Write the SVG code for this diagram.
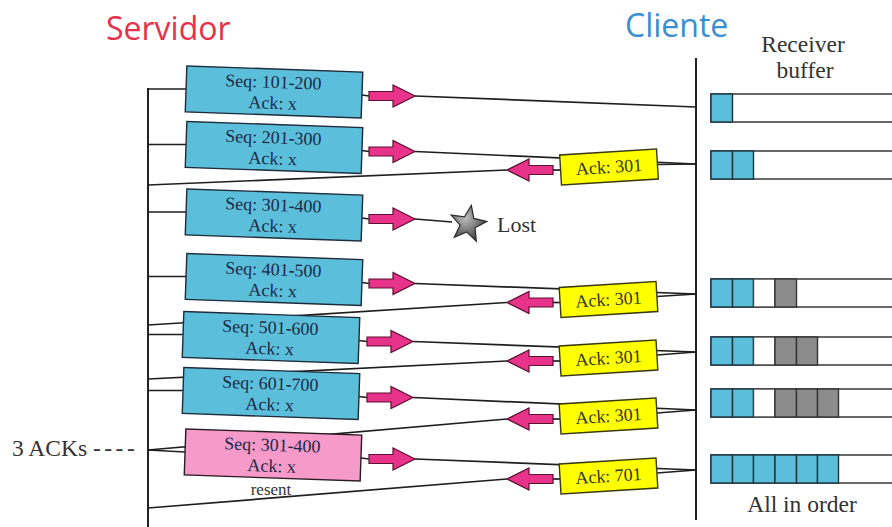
<svg xmlns="http://www.w3.org/2000/svg" width="892" height="527" viewBox="0 0 892 527">
  <defs>
    <style>
      .title { font-family: "Open Sans", "Liberation Sans", sans-serif; font-size: 32px; }
      .lbl { font-family: "Liberation Serif", "DejaVu Serif", serif; font-size: 18px; fill: #1c2a48; text-anchor: middle; }
      .ack-lbl { font-family: "Liberation Serif", "DejaVu Serif", serif; font-size: 18px; fill: #333; text-anchor: middle; }
      .note { font-family: "Liberation Serif", "DejaVu Serif", serif; font-size: 22px; fill: #333; }
      .note-lg { font-size: 23.5px; }
      .seg { fill: #5bbfdb; stroke: #1d2b3a; stroke-width: 1.4; }
      .seg-resent { fill: #f59ac9; stroke: #2a1a22; stroke-width: 1.4; }
      .ack { fill: #ffff00; stroke: #3a3a10; stroke-width: 1.4; }
      .wire { stroke: #1e1e1e; stroke-width: 1.7; fill: none; }
      .axis { stroke: #222; stroke-width: 2; }
      .flow { fill: #e8338a; stroke: #5a1030; stroke-width: 1.2; }
      .buf { fill: #fff; stroke: #444; stroke-width: 1.6; }
      .cell-in { fill: #5bbfdb; stroke: #1d3440; stroke-width: 1.4; }
      .cell-ooo { fill: #8c8c8c; stroke: #333; stroke-width: 1.4; }
      .cell-gap { fill: #fff; stroke: #444; stroke-width: 1.4; }
    </style>
    <!-- block arrow pointing right, tail at x=0 -->
    <path id="fwd" d="M0,-4.5 H24 V-11 L46,0 L24,11 V4.5 H0 Z"/>
    <!-- block arrow pointing left, tail at x=0 -->
    <path id="back" d="M0,-4.5 H-24 V-11 L-46,0 L-24,11 V4.5 H0 Z"/>
    <radialGradient id="starFill" cx="0.4" cy="0.35" r="0.7">
      <stop offset="0" stop-color="#bdbdbd"/>
      <stop offset="1" stop-color="#3a3a3a"/>
    </radialGradient>
  </defs>

  <rect width="892" height="527" fill="#fff"/>

  <!-- headings -->
  <text class="title" x="106" y="40" fill="#e8304c">Servidor</text>
  <text class="title" x="625" y="37" fill="#3a8fd0">Cliente</text>
  <text class="note note-lg" x="803" y="52" text-anchor="middle">Receiver</text>
  <text class="note note-lg" x="805" y="78" text-anchor="middle">buffer</text>

  <!-- timelines -->
  <g id="timelines">
    <line class="axis" x1="148" y1="88" x2="148" y2="527"/>
    <line class="axis" x1="696" y1="58" x2="696" y2="520"/>
  </g>

  <!-- connectors: server stubs, segment paths, ack paths and flow arrows -->
  <g id="connectors">
    <!-- stubs from server timeline to segments -->
    <line class="wire" x1="148" y1="89" x2="186" y2="89"/>
    <line class="wire" x1="148" y1="144.5" x2="186" y2="144.5"/>
    <line class="wire" x1="148" y1="212" x2="186" y2="212"/>
    <line class="wire" x1="148" y1="276.5" x2="186" y2="276.5"/>
    <line class="wire" x1="148" y1="334.5" x2="183" y2="334.5"/>
    <line class="wire" x1="148" y1="390.5" x2="183" y2="390.5"/>
    <line class="wire" x1="148" y1="450" x2="185" y2="452"/>

    <!-- segment stubs to flow arrows -->
    <line class="wire" x1="362" y1="95" x2="369" y2="96"/>
    <line class="wire" x1="362" y1="150.5" x2="369" y2="151.5"/>
    <line class="wire" x1="362" y1="218" x2="369" y2="219"/>
    <line class="wire" x1="362" y1="282.5" x2="369" y2="283.5"/>
    <line class="wire" x1="359" y1="340.5" x2="367" y2="341.5"/>
    <line class="wire" x1="359" y1="396.5" x2="367" y2="397.5"/>
    <line class="wire" x1="361" y1="458" x2="369" y2="459"/>

    <!-- segments travelling to the client -->
    <line class="wire" x1="415" y1="96" x2="696" y2="107"/>
    <line class="wire" x1="415" y1="151.5" x2="696" y2="164"/>
    <line class="wire" x1="415" y1="219" x2="452" y2="222"/>
    <line class="wire" x1="415" y1="283.5" x2="696" y2="294"/>
    <line class="wire" x1="413" y1="341.5" x2="696" y2="352"/>
    <line class="wire" x1="413" y1="397.5" x2="696" y2="410"/>
    <line class="wire" x1="415" y1="459" x2="696" y2="470"/>

    <!-- acks travelling back to the server -->
    <line class="wire" x1="657" y1="164.5" x2="696" y2="164"/>
    <line class="wire" x1="553" y1="170" x2="560" y2="170"/>
    <line class="wire" x1="507" y1="170" x2="148" y2="185"/>

    <line class="wire" x1="657" y1="296.5" x2="696" y2="294"/>
    <line class="wire" x1="553" y1="302.5" x2="560" y2="302.5"/>
    <line class="wire" x1="507" y1="302.5" x2="148" y2="325"/>

    <line class="wire" x1="657" y1="355" x2="696" y2="352"/>
    <line class="wire" x1="553" y1="361" x2="560" y2="361"/>
    <line class="wire" x1="507" y1="361" x2="148" y2="379"/>

    <line class="wire" x1="657" y1="413" x2="696" y2="410"/>
    <line class="wire" x1="553" y1="419" x2="560" y2="419"/>
    <line class="wire" x1="507" y1="419" x2="148" y2="450"/>

    <line class="wire" x1="657" y1="473" x2="696" y2="470"/>
    <line class="wire" x1="553" y1="479" x2="560" y2="479"/>
    <line class="wire" x1="507" y1="479" x2="148" y2="508"/>

    <!-- flow arrows -->
    <use href="#fwd" class="flow" x="369" y="96"/>
    <use href="#fwd" class="flow" x="369" y="151.5"/>
    <use href="#fwd" class="flow" x="369" y="219"/>
    <use href="#fwd" class="flow" x="369" y="283.5"/>
    <use href="#fwd" class="flow" x="367" y="341.5"/>
    <use href="#fwd" class="flow" x="367" y="397.5"/>
    <use href="#fwd" class="flow" x="369" y="459"/>

    <use href="#back" class="flow" x="553" y="170"/>
    <use href="#back" class="flow" x="553" y="302.5"/>
    <use href="#back" class="flow" x="553" y="361"/>
    <use href="#back" class="flow" x="553" y="419"/>
    <use href="#back" class="flow" x="553" y="479"/>
  </g>

  <!-- segments sent by the server -->
  <g id="seg-101" transform="rotate(2 274 92)">
    <rect class="seg" x="186" y="69" width="176" height="46"/>
    <text class="lbl" x="273" y="88">Seq: 101-200</text>
    <text class="lbl" x="273" y="109">Ack: x</text>
  </g>
  <g id="seg-201" transform="rotate(2 274 147.5)">
    <rect class="seg" x="186" y="124.5" width="176" height="46"/>
    <text class="lbl" x="273" y="143.5">Seq: 201-300</text>
    <text class="lbl" x="273" y="164.5">Ack: x</text>
  </g>
  <g id="seg-301" transform="rotate(2 274 215)">
    <rect class="seg" x="186" y="192" width="176" height="46"/>
    <text class="lbl" x="273" y="211">Seq: 301-400</text>
    <text class="lbl" x="273" y="232">Ack: x</text>
  </g>
  <g id="seg-401" transform="rotate(2 274 279.5)">
    <rect class="seg" x="186" y="256.5" width="176" height="46"/>
    <text class="lbl" x="273" y="275.5">Seq: 401-500</text>
    <text class="lbl" x="273" y="296.5">Ack: x</text>
  </g>
  <g id="seg-501" transform="rotate(2 271 337.5)">
    <rect class="seg" x="183" y="314.5" width="176" height="46"/>
    <text class="lbl" x="270" y="333.5">Seq: 501-600</text>
    <text class="lbl" x="270" y="354.5">Ack: x</text>
  </g>
  <g id="seg-601" transform="rotate(2 271 393.5)">
    <rect class="seg" x="183" y="370.5" width="176" height="46"/>
    <text class="lbl" x="270" y="389.5">Seq: 601-700</text>
    <text class="lbl" x="270" y="410.5">Ack: x</text>
  </g>
  <g id="seg-301-resent" transform="rotate(2 273 455)">
    <rect class="seg-resent" x="185" y="432" width="176" height="46"/>
    <text class="lbl" x="272" y="451">Seq: 301-400</text>
    <text class="lbl" x="272" y="472">Ack: x</text>
  </g>
  <text id="resent-label" x="271" y="495" font-family="Liberation Serif, DejaVu Serif, serif" font-size="17" fill="#333" text-anchor="middle">resent</text>

  <!-- lost segment -->
  <g id="lost">
    <path d="M471.3,205.3 L473.8,218.4 L486.8,221.4 L475.1,227.8 L476.3,241.1 L466.6,231.9 L454.3,237.2 L460.1,225.1 L451.2,215.1 L464.5,216.8 Z"
          fill="url(#starFill)" stroke="#2a2a2a" stroke-width="1.2"/>
    <text class="note" x="497" y="232">Lost</text>
  </g>

  <!-- acknowledgements sent by the client -->
  <g id="ack-301-a" transform="rotate(-3.5 609 167)">
    <rect class="ack" x="560.5" y="152" width="97" height="30"/>
    <text class="ack-lbl" x="609" y="173">Ack: 301</text>
  </g>
  <g id="ack-301-b" transform="rotate(-3.5 608.5 299.5)">
    <rect class="ack" x="560" y="284.5" width="97" height="30"/>
    <text class="ack-lbl" x="608.5" y="305.5">Ack: 301</text>
  </g>
  <g id="ack-301-c" transform="rotate(-3.5 608.5 358)">
    <rect class="ack" x="560" y="343" width="97" height="30"/>
    <text class="ack-lbl" x="608.5" y="364">Ack: 301</text>
  </g>
  <g id="ack-301-d" transform="rotate(-3.5 608.5 416)">
    <rect class="ack" x="560" y="401" width="97" height="30"/>
    <text class="ack-lbl" x="608.5" y="422">Ack: 301</text>
  </g>
  <g id="ack-701" transform="rotate(-3.5 608.5 476)">
    <rect class="ack" x="560" y="461" width="97" height="30"/>
    <text class="ack-lbl" x="608.5" y="482">Ack: 701</text>
  </g>

  <!-- duplicate-ack trigger -->
  <text id="three-acks" class="note note-lg" x="12" y="456">3 ACKs <tspan letter-spacing="3.5">----</tspan></text>

  <!-- receiver buffer states -->
  <g id="buffers">
    <g id="buf-1">
      <rect class="buf" x="711" y="94" width="200" height="28"/>
      <rect class="cell-in" x="711" y="94" width="21.5" height="28"/>
    </g>
    <g id="buf-2">
      <rect class="buf" x="711" y="151" width="200" height="28"/>
      <rect class="cell-in" x="711" y="151" width="21.5" height="28"/>
      <rect class="cell-in" x="732.5" y="151" width="21" height="28"/>
    </g>
    <g id="buf-3">
      <rect class="buf" x="711" y="279" width="200" height="28"/>
      <rect class="cell-in" x="711" y="279" width="21.5" height="28"/>
      <rect class="cell-in" x="732.5" y="279" width="21" height="28"/>
      <rect class="cell-gap" x="753.5" y="279" width="21.5" height="28"/>
      <rect class="cell-ooo" x="775" y="279" width="21.5" height="28"/>
    </g>
    <g id="buf-4">
      <rect class="buf" x="711" y="337" width="200" height="28"/>
      <rect class="cell-in" x="711" y="337" width="21.5" height="28"/>
      <rect class="cell-in" x="732.5" y="337" width="21" height="28"/>
      <rect class="cell-gap" x="753.5" y="337" width="21.5" height="28"/>
      <rect class="cell-ooo" x="775" y="337" width="21.5" height="28"/>
      <rect class="cell-ooo" x="796.5" y="337" width="21" height="28"/>
    </g>
    <g id="buf-5">
      <rect class="buf" x="711" y="389" width="200" height="28"/>
      <rect class="cell-in" x="711" y="389" width="21.5" height="28"/>
      <rect class="cell-in" x="732.5" y="389" width="21" height="28"/>
      <rect class="cell-gap" x="753.5" y="389" width="21.5" height="28"/>
      <rect class="cell-ooo" x="775" y="389" width="21.5" height="28"/>
      <rect class="cell-ooo" x="796.5" y="389" width="21" height="28"/>
      <rect class="cell-ooo" x="817.5" y="389" width="21" height="28"/>
    </g>
    <g id="buf-6">
      <rect class="buf" x="711" y="455" width="200" height="28"/>
      <rect class="cell-in" x="711" y="455" width="21.5" height="28"/>
      <rect class="cell-in" x="732.5" y="455" width="21" height="28"/>
      <rect class="cell-in" x="753.5" y="455" width="21.5" height="28"/>
      <rect class="cell-in" x="775" y="455" width="21.5" height="28"/>
      <rect class="cell-in" x="796.5" y="455" width="21" height="28"/>
      <rect class="cell-in" x="817.5" y="455" width="21" height="28"/>
    </g>
    <text class="note note-lg" x="802" y="512" text-anchor="middle">All in order</text>
  </g>
</svg>
